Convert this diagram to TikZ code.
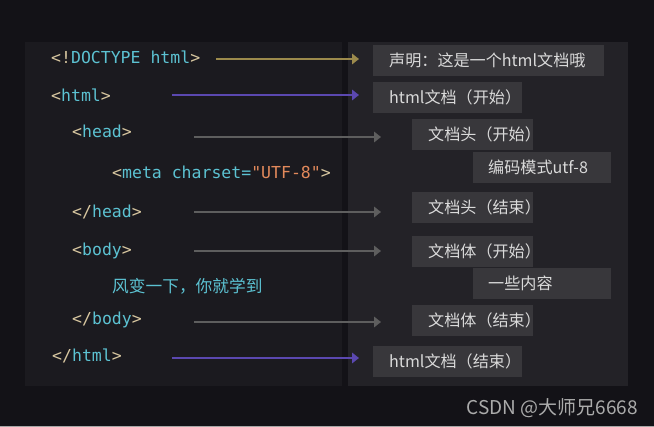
\documentclass[tikz,border=0pt]{standalone}
\usepackage{fontspec}
\usetikzlibrary{arrows.meta}
\newfontfamily\cjkfont{Noto Sans CJK SC}
\newfontfamily\codefont{DejaVu Sans Mono}
\definecolor{outerbg}{HTML}{131217}
\definecolor{leftbg}{HTML}{1B1A1F}
\definecolor{rightbg}{HTML}{232227}
\definecolor{boxc}{HTML}{38373B}
\definecolor{boxtext}{HTML}{DADADA}
\definecolor{beige}{HTML}{D8C7A0}
\definecolor{cyanc}{HTML}{5CC2D2}
\definecolor{orangec}{HTML}{E2895B}
\definecolor{goldc}{HTML}{9C8A4C}
\definecolor{purplec}{HTML}{5B48B0}
\definecolor{grayc}{HTML}{5E5E5E}
\definecolor{wmark}{HTML}{ABABAB}
\newcommand{\Bq}[1]{\textcolor{beige}{#1}}
\newcommand{\Cq}[1]{\textcolor{cyanc}{#1}}
\newcommand{\Oq}[1]{\textcolor{orangec}{#1}}
\tikzset{
  code/.style={anchor=base west, inner sep=0pt, font=\codefont\fontsize{16.5}{16.5}\selectfont},
  box/.style={fill=boxc, anchor=north west, inner xsep=16pt, inner ysep=0pt,
    minimum height=30.5pt, align=left, text=boxtext, text height=12pt, text depth=0pt,
    font=\cjkfont\fontsize{16.1}{16.1}\selectfont},
  arr/.style={line width=2.5pt, -{Triangle[length=7pt,width=10.5pt]}},
}
\begin{document}
\begin{tikzpicture}[x=1pt,y=-1pt]
\useasboundingbox (0,0) rectangle (654,427);
\fill[outerbg] (0,0) rectangle (654,427);
\fill[leftbg] (25,42) rectangle (342,386);
\fill[rightbg] (348,42) rectangle (628,386);
\fill[gray!70] (0,425.6) rectangle (654,427);

% code lines
\node[code] (l1) at (51,64) {\Bq{<!}\Cq{DOCTYPE html}\Bq{>}};
\node[code] (l2) at (51,102) {\Bq{<}\Cq{html}\Bq{>}};
\node[code] (l3) at (72,138) {\Bq{<}\Cq{head}\Bq{>}};
\node[code] (l4) at (112,179) {\Bq{<}\Cq{meta charset=}\Oq{"UTF-8"}\Bq{>}};
\node[code] (l5) at (72,218) {\Bq{</}\Cq{head}\Bq{>}};
\node[code] (l6) at (72,256) {\Bq{<}\Cq{body}\Bq{>}};
\node[anchor=west, inner sep=0pt, text=cyanc, font=\cjkfont\fontsize{16.7}{16.7}\selectfont] (l7) at (112,286) {风变一下，你就学到};
\node[code] (l8) at (72,325) {\Bq{</}\Cq{body}\Bq{>}};
\node[code] (l9) at (52,362) {\Bq{</}\Cq{html}\Bq{>}};

% boxes
\node[box, text width=199pt] (b1) at (373,45) {声明：这是一个html文档哦};
\node[box, text width=117pt] (b2) at (373,82) {html文档（开始）};
\node[box, text width=89pt] (b3) at (412,119) {文档头（开始）};
\node[box, text width=108pt, inner xsep=15pt] (b4) at (473,152) {编码模式utf-8};
\node[box, text width=89pt] (b5) at (412,192) {文档头（结束）};
\node[box, text width=89pt] (b6) at (412,236) {文档体（开始）};
\node[box, text width=108pt, inner xsep=15pt] (b7) at (473,268) {一些内容};
\node[box, text width=89pt] (b8) at (412,305) {文档体（结束）};
\node[box, text width=117pt] (b9) at (373,346) {html文档（结束）};

% arrow ends
\coordinate (s1) at (216,59);  \coordinate (e1) at (359,59);
\coordinate (s2) at (172,95);  \coordinate (e2) at (359,95);
\coordinate (s3) at (194,137); \coordinate (e3) at (381,137);
\coordinate (s5) at (194,212); \coordinate (e5) at (381,212);
\coordinate (s6) at (194,251); \coordinate (e6) at (381,251);
\coordinate (s8) at (194,322); \coordinate (e8) at (381,322);
\coordinate (s9) at (172,358); \coordinate (e9) at (359,358);
\draw[arr, goldc] (s1) -- (e1);
\draw[arr, purplec] (s2) -- (e2);
\draw[arr, grayc] (s3) -- (e3);
\draw[arr, grayc] (s5) -- (e5);
\draw[arr, grayc] (s6) -- (e6);
\draw[arr, grayc] (s8) -- (e8);
\draw[arr, purplec] (s9) -- (e9);

\node[anchor=east, inner sep=0pt, text=wmark, font=\cjkfont\fontsize{19}{19}\selectfont] (wm) at (638,408) {CSDN @大师兄6668};
\end{tikzpicture}
\end{document}
